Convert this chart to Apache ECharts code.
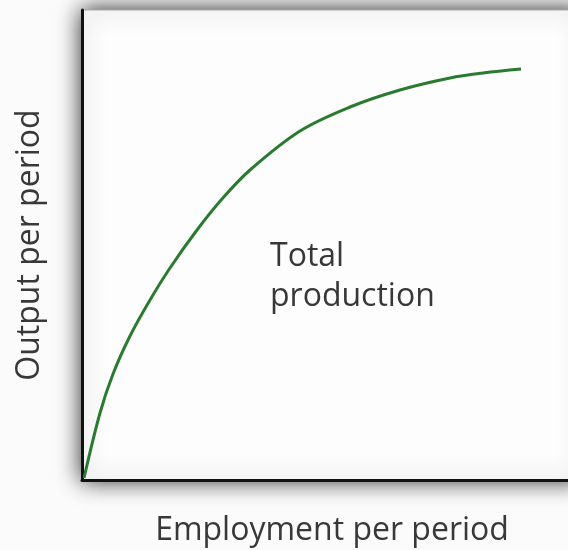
<!DOCTYPE html>
<html>
<head>
<meta charset="utf-8">
<script src="https://cdn.jsdelivr.net/npm/echarts@6/dist/echarts.min.js"></script>
<style>
  html, body { margin: 0; padding: 0; background: #fbfbfb; }
  #chart { width: 568px; height: 550px; }
</style>
</head>
<body>
<div id="chart"></div>
<script>
// 总产量曲线
const employment = [0.4, 3.6, 6.2, 9.6, 13.6, 17.6, 23, 28, 33.6, 43.6, 53.6, 63.6, 73.6, 80.2, 87.8];
const output = [0.4, 13.4, 21.2, 28.8, 36, 42.4, 50, 56.2, 62, 69.8, 74.6, 78, 80.4, 81.4, 82.2];
const curveLabel = 'Total\nproduction';
const xName = 'Employment per period';
const yName = 'Output per period';

const chart = echarts.init(document.getElementById('chart'));

const option = {
    backgroundColor: '#fbfbfb',
    animation: false,
    grid: {
        left: 82,
        top: 10,
        width: 500,
        height: 470,
        containLabel: false,
        outerBoundsMode: 'none',
        show: true,
        backgroundColor: '#fdfdfd',
        borderColor: '#aaa',
        borderWidth: 1,
        shadowBlur: 22,
        shadowColor: 'rgba(0,0,0,0.85)',
    },
    xAxis: {
        type: 'value',
        min: 0,
        max: 100,
        name: xName,
        nameLocation: 'middle',
        nameGap: 35,
        nameTextStyle: { fontFamily: 'Open Sans', fontSize: 32, color: '#383838' },
        axisLine: { lineStyle: { color: '#111', width: 3 } },
        axisTick: { show: false },
        axisLabel: { show: false },
        splitLine: { show: false },
    },
    yAxis: {
        type: 'value',
        min: 0,
        max: 94,
        name: yName,
        nameLocation: 'middle',
        nameGap: 36,
        nameTextStyle: { fontFamily: 'Open Sans', fontSize: 32, color: '#383838' },
        axisLine: { show: true, lineStyle: { color: '#111', width: 3 } },
        axisTick: { show: false },
        axisLabel: { show: false },
        splitLine: { show: false },
    },
    graphic: [{
        type: 'text',
        left: 270,
        top: 237,
        style: {
            text: curveLabel,
            fontFamily: 'Open Sans',
            fontSize: 32,
            lineHeight: 40,
            fill: '#383838',
        },
    }],
    series: [{
        type: 'line',
        data: employment.map((x, i) => [x, output[i]]),
        smooth: 0.35,
        showSymbol: false,
        lineStyle: { color: '#2a7a2f', width: 3 },
    }],
};

chart.setOption(option);
</script>
</body>
</html>
